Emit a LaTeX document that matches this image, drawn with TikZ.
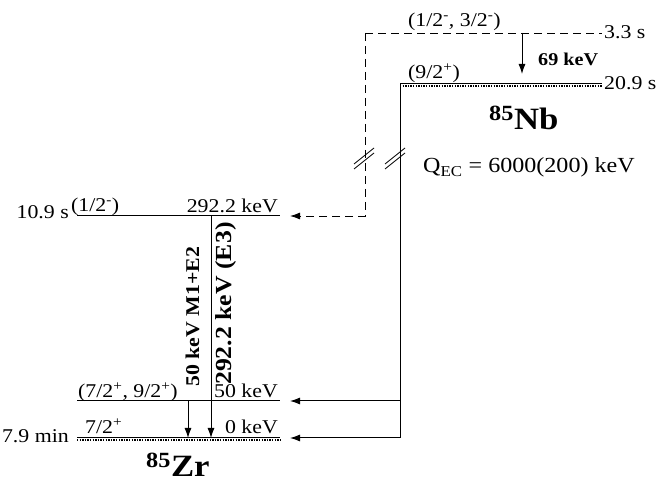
\documentclass[tikz,border=0pt]{standalone}
\usepackage{fontspec}
\setmainfont{Liberation Serif}[FakeStretch=1.12]
\usetikzlibrary{arrows.meta,positioning,calc}

\begin{document}
\begin{tikzpicture}[x=1pt, y=-1pt,
    lvl/.style={line width=1pt},
    gsdot/.style={line width=2.6pt, dash pattern=on 1.3pt off 1.3pt},
    dashlvl/.style={line width=0.9pt, dash pattern=on 8pt off 5pt},
    arrow/.style={-{Latex[length=10pt,width=7pt]}, line width=1pt},
    lab/.style={font=\fontsize{19.5}{22}\selectfont, inner sep=0pt},
    tlab/.style={font=\bfseries\fontsize{20}{22}\selectfont, inner sep=0pt, rotate=90, anchor=base west},
    nuc/.style={font=\bfseries\fontsize{31}{33}\selectfont, inner sep=0pt, anchor=base west},
    brk/.pic={\draw[line width=0.8pt] (-10,8) -- (10,-8); \draw[line width=0.8pt] (-10,13) -- (10,-3);}
]
\useasboundingbox (0,0) rectangle (662,486);

% level end points
\coordinate (nbmL) at (365,33);  \coordinate (nbmR) at (602,33);
\coordinate (nbL) at (400,84);   \coordinate (nbR) at (602,84);
\coordinate (zr292L) at (77,216); \coordinate (zr292R) at (280,216);
\coordinate (zr50L) at (77,401);  \coordinate (zr50R) at (280,401);
\coordinate (zr0L) at (77,438);   \coordinate (zr0R) at (280,438);

% 85Nb levels
\draw[dashlvl] (nbmL) -- (nbmR);
\draw[lvl] (nbL) -- (nbR);
\draw[gsdot] ($(nbL)+(0,2)$) -- ($(nbR)+(0,2)$);
\node[lab, anchor=base west] (nbmspin) at (408,27) {(1/2\textsuperscript{-}, 3/2\textsuperscript{-})};
\node[lab, anchor=base west] (nbmhl) at (604,39) {3.3 s};
\node[lab, anchor=base west] (nbspin) at (408,79) {(9/2\textsuperscript{+})};
\node[lab, anchor=base west] (nbhl) at (604,90) {20.9 s};
\node[nuc] (nbname) at (489,130) {\textsuperscript{85}Nb};
\node[lab, font=\fontsize{21.5}{24}\selectfont, anchor=base west] (qec) at (423,173) {Q\textsubscript{EC} = 6000(200) keV};

% 69 keV transition
\coordinate (g69a) at (522,33); \coordinate (g69b) at (522,74);
\draw[arrow] (g69a) -- (g69b);
\node[lab, font=\bfseries\fontsize{18}{20}\selectfont, anchor=base west] (e69) at (538,66) {69 keV};

% 85Zr levels
\draw[lvl] (zr292L) -- (zr292R);
\draw[lvl] (zr50L) -- (zr50R);
\draw[lvl] (zr0L) -- (zr0R);
\draw[gsdot] ($(zr0L)+(0,2)$) -- ($(zr0R)+(0,2)$);
\node[lab, anchor=base east] (zr292hl) at (69,219) {10.9 s};
\node[lab, anchor=base west] (zr292spin) at (71,212) {(1/2\textsuperscript{-})};
\node[lab, anchor=base east] (zr292e) at (278,213) {292.2 keV};
\node[lab, anchor=base west] (zr50spin) at (78,398) {(7/2\textsuperscript{+}, 9/2\textsuperscript{+})};
\node[lab, anchor=base east] (zr50e) at (278,398) {50 keV};
\node[lab, anchor=base east] (zr0hl) at (69,443) {7.9 min};
\node[lab, anchor=base west] (zr0spin) at (85,434) {7/2\textsuperscript{+}};
\node[lab, anchor=base east] (zr0e) at (278,434) {0 keV};
\node[nuc] (zrname) at (146,477) {\textsuperscript{85}Zr};

% gamma transitions in 85Zr
\coordinate (g50a) at (188,401);  \coordinate (g50b) at (188,438);
\coordinate (g292a) at (211,216); \coordinate (g292b) at (211,438);
\draw[arrow] (g50a) -- (g50b);
\draw[arrow] (g292a) -- (g292b);
\node[tlab, font=\bfseries\fontsize{19.5}{22}\selectfont] (t50) at (199,387) {50 keV M1+E2};
\node[tlab, font=\bfseries\fontsize{23}{25}\selectfont] (t292) at (231,385) {292.2 keV (E3)};

% EC feeding
\draw[arrow, dashlvl, shorten >=10pt] (nbmL) |- (zr292R);
\draw[arrow, shorten >=10pt] (nbL) |- (zr50R);
\draw[arrow, shorten >=10pt] (nbL) |- (zr0R);
\pic at (364,156) {brk};
\pic at (395,156) {brk};

\end{tikzpicture}
\end{document}
